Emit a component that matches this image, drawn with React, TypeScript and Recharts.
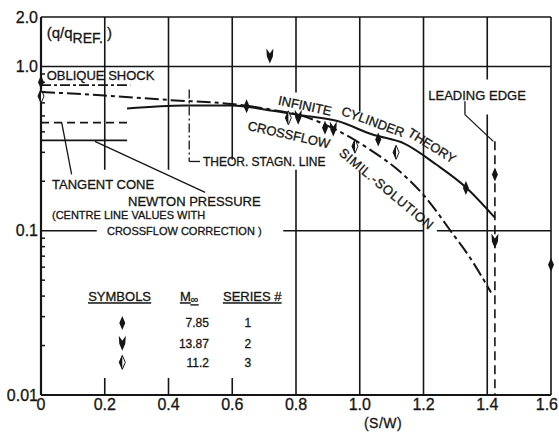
import React from 'react';
import { ComposedChart, Line, Scatter, XAxis, YAxis, ReferenceLine, ReferenceDot } from 'recharts';

// ---- axes ----
const xTicks = [0, 0.2, 0.4, 0.6, 0.8, 1.0, 1.2, 1.4, 1.6];
const xTickLabels = ['0', '0.2', '0.4', '0.6', '0.8', '1.0', '1.2', '1.4', '1.6'];
const yMajorTicks = [0.01, 0.1, 1, 2];
const yMajorLabels = ['0.01', '0.1', '1.0', '2.0'];
const yMinorTicks = [0.02, 0.03, 0.04, 0.05, 0.06, 0.07, 0.08, 0.09, 0.2, 0.3, 0.4, 0.5, 0.6, 0.7, 0.8, 0.9];

// ---- theory curves (S/W , q/qREF) ----
const cylinderS = [0.27, 0.45, 0.6, 0.72, 0.82, 0.93, 1.04, 1.14, 1.24, 1.33, 1.424];
const cylinderQ = [0.555, 0.578, 0.578, 0.54, 0.503, 0.465, 0.385, 0.339, 0.253, 0.186, 0.12];

const similS = [0, 0.2, 0.4, 0.6, 0.72, 0.82, 0.938, 1.032, 1.126, 1.205, 1.283, 1.346, 1.412];
const similQ = [0.70, 0.665, 0.625, 0.59, 0.547, 0.50, 0.40, 0.312, 0.229, 0.161, 0.101, 0.0685, 0.042];

const obliqueS = [0, 0.28];
const obliqueQ = [0.77, 0.77];
const tangentS = [0, 0.27];
const tangentQ = [0.455, 0.455];
const newtonS = [0, 0.27];
const newtonQ = [0.355, 0.355];

// ---- measured points ----
const series1S = [0, 0.645, 0.891, 1.058, 1.333, 1.424, 1.6];
const series1Q = [0.8, 0.573, 0.423, 0.359, 0.182, 0.22, 0.062];
const series2S = [0.718, 0.807, 0.917, 1.424];
const series2Q = [1.15, 0.487, 0.413, 0.086];
const series3S = [0, 0.776, 0.985, 1.114];
const series3Q = [0.66, 0.487, 0.327, 0.30];

// ---- legend table ----
const legendMach = ['7.85', '13.87', '11.2'];
const legendSeries = ['1', '2', '3'];

const zip = (xs: number[], ys: number[]) => xs.map((x, i) => ({ x, y: ys[i] }));

const INK = '#151515';
const FONT = '"Liberation Sans", Arial, sans-serif';

const Sym1 = (p: any) => {
  const { cx, cy } = p;
  return <path d={`M${cx},${cy - 7} L${cx + 3},${cy} L${cx},${cy + 7} L${cx - 3},${cy} Z`} fill={INK} />;
};
const Sym2 = (p: any) => {
  const { cx, cy } = p;
  return (
    <path
      d={`M${cx - 3.5},${cy - 8} L${cx},${cy - 3} L${cx + 3.5},${cy - 8} L${cx + 3},${cy} L${cx},${cy + 7} L${cx - 3},${cy} Z`}
      fill={INK}
    />
  );
};
const Sym3 = (p: any) => {
  const { cx, cy } = p;
  return (
    <g>
      <path d={`M${cx},${cy - 7} L${cx + 3},${cy} L${cx},${cy + 7} L${cx - 3},${cy} Z`} fill="#fff" stroke={INK} strokeWidth={1} />
      <path d={`M${cx},${cy - 7} L${cx - 3},${cy} L${cx},${cy + 7} Z`} fill={INK} />
    </g>
  );
};

type Note = { text: string; s: number; q: number; anchor?: 'start' | 'middle' | 'end'; angle?: number; size?: number; ls?: number };
const notes: Note[] = [
  { text: 'OBLIQUE SHOCK', s: 0.018, q: 0.881 },
  { text: 'TANGENT CONE', s: 0.0345, q: 0.191 },
  { text: 'NEWTON PRESSURE', s: 0.273, q: 0.15 },
  { text: '(CENTRE LINE VALUES WITH', s: 0.0345, q: 0.125, size: 11 },
  { text: 'CROSSFLOW CORRECTION )', s: 0.207, q: 0.0989, size: 11 },
  { text: 'THEOR. STAGN. LINE', s: 0.508, q: 0.264, size: 12 },
  { text: 'CROSSFLOW', s: 0.778, q: 0.385, anchor: 'middle', angle: 13 },
  { text: 'INFINITE', s: 0.828, q: 0.578, anchor: 'middle', angle: 12 },
  { text: 'CYLINDER', s: 1.0416, q: 0.462, anchor: 'middle', angle: 20 },
  { text: 'THEORY', s: 1.2267, q: 0.33, anchor: 'middle', angle: 32 },
  { text: 'SIMIL.-SOLUTION', s: 1.0845, q: 0.18, anchor: 'middle', angle: 40, ls: 0.7 },
  { text: 'LEADING EDGE', s: 1.368, q: 0.665, anchor: 'middle' },
];

type Seg = [number, number, number, number];
const gridSegs: Seg[] = [
  [0, 2, 1.6, 2],
  [0, 1, 1.6, 1],
  [0, 0.1, 0.175, 0.1],
  [0.76, 0.1, 1.2, 0.1],
  [1.242, 0.1, 1.6, 0.1],
  [1.6, 0.01, 1.6, 2],
  [0.2, 2, 0.2, 0.235],
  [0.2, 0.0127, 0.2, 0.01],
  [0.4, 2, 0.4, 0.235],
  [0.4, 0.0127, 0.4, 0.01],
  [0.6, 2, 0.6, 0.271],
  [0.6, 0.0127, 0.6, 0.01],
  [0.8, 2, 0.8, 0.694],
  [0.8, 0.235, 0.8, 0.01],
  [1.0, 2, 1.0, 0.531],
  [1.0, 0.229, 1.0, 0.01],
  [1.2, 2, 1.2, 0.01],
  [1.4, 2, 1.4, 0.833],
  [1.4, 0.51, 1.4, 0.01],
];
const leaderSegs: Seg[] = [
  [0.065, 0.455, 0.096, 0.22],
  [0.169, 0.35, 0.515, 0.171],
  [0.465, 0.264, 0.499, 0.264],
  [1.33, 0.614, 1.33, 0.509],
  [1.33, 0.509, 1.419, 0.35],
];

const YTick = (props: any) => {
  const { x, y, payload } = props;
  const idx = yMajorTicks.indexOf(payload.value);
  if (idx >= 0) {
    return (
      <text x={x} y={y} dy="0.36em" textAnchor="end" fill={INK} stroke={INK} strokeWidth={0.3} fontSize={16} fontFamily={FONT}>
        {yMajorLabels[idx]}
      </text>
    );
  }
  return <line x1={x + 3} x2={x + 7} y1={y} y2={y} stroke={INK} strokeWidth={1.5} />;
};

const XTick = (props: any) => {
  const { x, y, payload } = props;
  const idx = xTicks.indexOf(payload.value);
  const last = idx === xTicks.length - 1;
  return (
    <text
      x={last ? x + 7 : x}
      y={y}
      dy="0.7em"
      textAnchor={last ? 'end' : 'middle'}
      fill={INK}
      stroke={INK}
      strokeWidth={0.3}
      fontSize={16}
      fontFamily={FONT}
    >
      {xTickLabels[idx]}
    </text>
  );
};

const textStyle = { fill: INK, stroke: INK, strokeWidth: 0.3, fontFamily: FONT } as const;

function seg(s: Seg, key: string, extra: any = {}) {
  return (
    <ReferenceLine
      key={key}
      segment={[{ x: s[0], y: s[1] }, { x: s[2], y: s[3] }]}
      stroke={INK}
      strokeWidth={1.6}
      ifOverflow="visible"
      {...extra}
    />
  );
}

function textDot(key: string, s: number, q: number, render: (cx: number, cy: number) => React.ReactElement) {
  return (
    <ReferenceDot
      key={key}
      x={s}
      y={q}
      r={0}
      ifOverflow="visible"
      shape={(p: any) => render(p.cx, p.cy)}
    />
  );
}

const legendRowsQ = [0.0274, 0.0205, 0.0158];
const legendSyms = [Sym1, Sym2, Sym3];

export default function App() {
  const allYTicks = [...yMajorTicks, ...yMinorTicks].sort((a, b) => a - b);
  return (
    <div style={{ position: 'absolute', left: 0, top: 0, background: '#fff' }}>
      <ComposedChart width={559} height={433} margin={{ top: 17, right: 8, bottom: 0, left: 0 }}>
        <XAxis
          type="number"
          dataKey="x"
          domain={[0, 1.6]}
          ticks={xTicks}
          interval={0}
          tickLine={false}
          tickSize={2}
          tickMargin={2}
          height={38}
          axisLine={{ stroke: INK, strokeWidth: 2.2 }}
          tick={<XTick />}
          label={{
            content: (p: any) => {
              const vb = p.viewBox;
              return (
                <text x={vb.x + vb.width * (1.073 / 1.6)} y={vb.y + 33} textAnchor="middle" fontSize={14} letterSpacing={0.5} {...textStyle}>
                  (S/W)
                </text>
              );
            },
          }}
        />
        <YAxis
          type="number"
          dataKey="y"
          scale="log"
          domain={[0.01, 2]}
          allowDataOverflow
          ticks={allYTicks}
          interval={0}
          tickLine={false}
          tickSize={0}
          tickMargin={3}
          width={41}
          axisLine={{ stroke: INK, strokeWidth: 2.2 }}
          tick={<YTick />}
        />

        {gridSegs.map((s, i) => seg(s, 'g' + i))}
        {leaderSegs.map((s, i) => seg(s, 'l' + i, { strokeWidth: 1.3 }))}
        {seg([0.465, 0.724, 0.465, 0.264], 'stagn', { strokeWidth: 1.3, strokeDasharray: '9 3 2 3' })}
        {seg([1.424, 0.35, 1.424, 0.01], 'le', { strokeWidth: 1.6, strokeDasharray: '9 5' })}

        <Line data={zip(obliqueS, obliqueQ)} dataKey="y" type="linear" dot={false} stroke={INK} strokeWidth={1.8} strokeDasharray="10 3 3 3" isAnimationActive={false} />
        <Line data={zip(tangentS, tangentQ)} dataKey="y" type="linear" dot={false} stroke={INK} strokeWidth={1.8} strokeDasharray="8 5" isAnimationActive={false} />
        <Line data={zip(newtonS, newtonQ)} dataKey="y" type="linear" dot={false} stroke={INK} strokeWidth={1.8} isAnimationActive={false} />
        <Line data={zip(cylinderS, cylinderQ)} dataKey="y" type="monotone" dot={false} stroke={INK} strokeWidth={2} isAnimationActive={false} />
        <Line data={zip(similS, similQ)} dataKey="y" type="monotone" dot={false} stroke={INK} strokeWidth={2} strokeDasharray="14 4 4 4" isAnimationActive={false} />

        <Scatter data={zip(series1S, series1Q)} dataKey="y" shape={Sym1} isAnimationActive={false} />
        <Scatter data={zip(series2S, series2Q)} dataKey="y" shape={Sym2} isAnimationActive={false} />
        <Scatter data={zip(series3S, series3Q)} dataKey="y" shape={Sym3} isAnimationActive={false} />

        {notes.map((n, i) =>
          textDot('n' + i, n.s, n.q, (cx, cy) => (
            <text
              x={cx}
              y={cy}
              dy="0.36em"
              textAnchor={n.anchor || 'start'}
              fontSize={n.size || 13}
              letterSpacing={n.ls || 0}
              transform={n.angle ? `rotate(${n.angle} ${cx} ${cy})` : undefined}
              {...textStyle}
            >
              {n.text}
            </text>
          ))
        )}

        {textDot('ylab', 0.018, 1.612, (cx, cy) => (
          <text x={cx} y={cy} dy="0.36em" fontSize={15} {...textStyle}>
            (q/q
            <tspan dy={5} fontSize={14}>REF.</tspan>
            <tspan dy={-5}> )</tspan>
          </text>
        ))}

        {textDot('h1', 0.148, 0.0397, (cx, cy) => (
          <text x={cx} y={cy} dy="0.36em" fontSize={13} style={{ textDecoration: 'underline' }} {...textStyle}>SYMBOLS</text>
        ))}
        {textDot('h2', 0.436, 0.0397, (cx, cy) => (
          <text x={cx} y={cy} dy="0.36em" fontSize={13} style={{ textDecoration: 'underline' }} {...textStyle}>
            M<tspan fontSize={11} dy={2}>∞</tspan>
          </text>
        ))}
        {textDot('h3', 0.571, 0.0397, (cx, cy) => (
          <text x={cx} y={cy} dy="0.36em" fontSize={13} style={{ textDecoration: 'underline' }} {...textStyle}>SERIES #</text>
        ))}
        {legendRowsQ.map((q, i) => {
          const S = legendSyms[i];
          return [
            textDot('ls' + i, 0.255, q, (cx, cy) => <S cx={cx} cy={cy} />),
            textDot('lm' + i, 0.527, q, (cx, cy) => (
              <text x={cx} y={cy} dy="0.36em" textAnchor="end" fontSize={12} {...textStyle}>{legendMach[i]}</text>
            )),
            textDot('lr' + i, 0.649, q, (cx, cy) => (
              <text x={cx} y={cy} dy="0.36em" textAnchor="middle" fontSize={12} {...textStyle}>{legendSeries[i]}</text>
            )),
          ];
        })}
      </ComposedChart>
    </div>
  );
}
